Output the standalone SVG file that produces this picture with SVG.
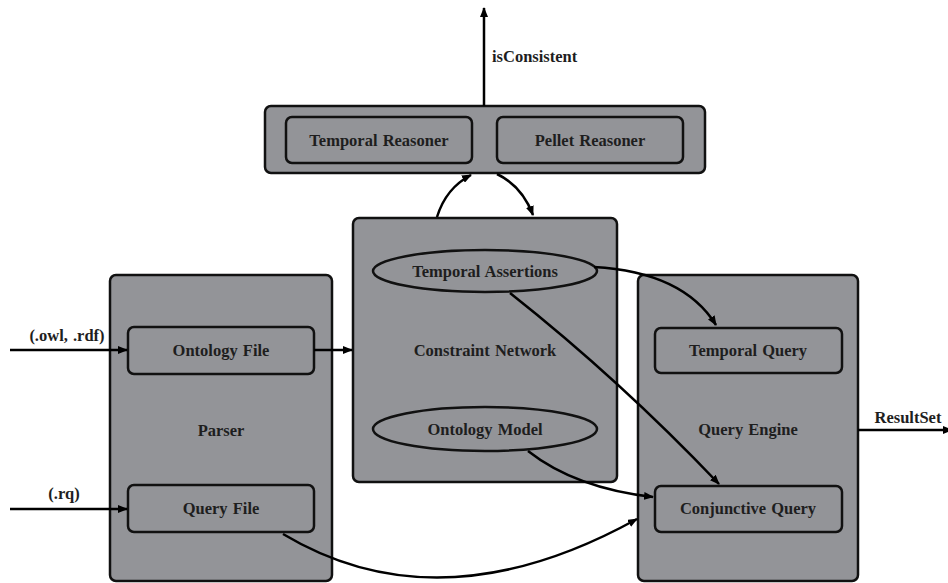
<svg xmlns="http://www.w3.org/2000/svg" width="948" height="583" viewBox="0 0 948 583">
<style>
.box{fill:#939498;stroke:#111;stroke-width:2.5}
.t{font-family:"Liberation Serif","Times New Roman",serif;font-weight:bold;font-size:16.5px;fill:#1e1e1e;text-anchor:middle;dominant-baseline:central;word-spacing:1px}
.c{fill:none;stroke:#000;stroke-width:2.5;marker-end:url(#ah)}
</style>
<defs>
<marker id="ah" viewBox="0 0 10 8" refX="9" refY="4" markerWidth="10" markerHeight="8" markerUnits="userSpaceOnUse" orient="auto">
<path d="M0,0 L10,4 L0,8 Z" fill="#000"/>
</marker>
</defs>
<rect width="948" height="583" fill="#fff"/>
<g id="reasoner">
<rect class="box" x="265" y="106" width="440" height="67" rx="6"/>
<g id="temporal-reasoner"><rect class="box" x="286" y="117" width="186" height="46" rx="6"/><text class="t" x="379" y="140">Temporal Reasoner</text></g>
<g id="pellet-reasoner"><rect class="box" x="497" y="117" width="186" height="46" rx="6"/><text class="t" x="590" y="140">Pellet Reasoner</text></g>
</g>
<g id="constraint-network">
<rect class="box" x="353" y="218" width="264" height="264" rx="6"/>
<text class="t" x="485" y="350">Constraint Network</text>
<g id="temporal-assertions"><ellipse class="box" cx="485" cy="271" rx="112" ry="21"/><text class="t" x="485" y="271">Temporal Assertions</text></g>
<g id="ontology-model"><ellipse class="box" cx="485" cy="429" rx="112" ry="22"/><text class="t" x="485" y="429">Ontology Model</text></g>
</g>
<g id="parser">
<rect class="box" x="110" y="275" width="222" height="306" rx="6"/>
<text class="t" x="221" y="430">Parser</text>
<g id="ontology-file"><rect class="box" x="128" y="327" width="186" height="47" rx="6"/><text class="t" x="221" y="350">Ontology File</text></g>
<g id="query-file"><rect class="box" x="128" y="485" width="186" height="47" rx="6"/><text class="t" x="221" y="508">Query File</text></g>
</g>
<g id="query-engine">
<rect class="box" x="638" y="275" width="220" height="306" rx="6"/>
<text class="t" x="748" y="429">Query Engine</text>
<g id="temporal-query"><rect class="box" x="655" y="328" width="187" height="45" rx="6"/><text class="t" x="748" y="350">Temporal Query</text></g>
<g id="conjunctive-query"><rect class="box" x="655" y="486" width="187" height="46" rx="6"/><text class="t" x="748" y="508">Conjunctive Query</text></g>
</g>
<g id="connectors">
<path class="c" d="M484,106 L484,8"/>
<text class="t" x="492" y="56" style="text-anchor:start">isConsistent</text>
<path class="c" d="M437,217 Q446,188 471,175"/>
<path class="c" d="M497,174 Q522,186 533,215"/>
<path class="c" d="M10,350 L127,350"/>
<text class="t" x="67" y="335">(.owl, .rdf)</text>
<path class="c" d="M10,509 L127,509"/>
<text class="t" x="64" y="493">(.rq)</text>
<path class="c" d="M314,350 L352,350"/>
<path class="c" d="M594,267 Q683,272 716,325"/>
<path class="c" d="M510,293 Q620,380 719,484"/>
<path class="c" d="M528,451 Q575,488 653,497"/>
<path class="c" d="M283,534 Q440,628 637,519"/>
<path class="c" d="M858,430 L952,430"/>
<text class="t" x="908" y="417">ResultSet</text>
</g>
</svg>
